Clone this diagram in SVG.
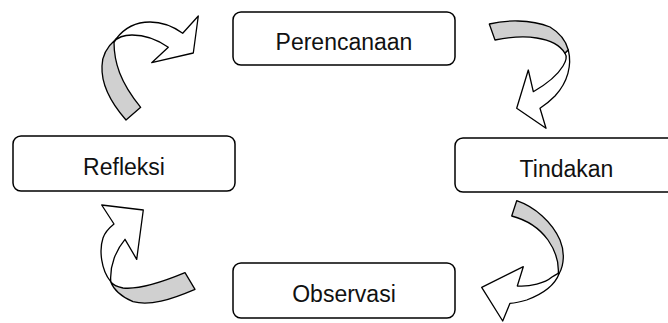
<svg xmlns="http://www.w3.org/2000/svg" width="668" height="323" viewBox="0 0 668 323">
<style>
.box{fill:#fff;stroke:#000;stroke-width:1.5}
.lbl{font-family:"Liberation Sans",Arial,sans-serif;font-size:23px;fill:#111;text-anchor:middle}
.back{fill:#d0d0d0;stroke:#000;stroke-width:1.3;stroke-linejoin:round}
.front{fill:#fff;stroke:#000;stroke-width:1.3;stroke-linejoin:round}
</style>
<rect width="668" height="323" fill="#fff"/>
<g id="connectors">
<g id="arrow-tl">
<path class="back" d="M126,120 C112,104 101,86 102,66 C102,55 108,46 116,39 L114,42 C114,62 120,82 140.7,107.3 Z"/>
<path class="front" d="M116,39 C125,27 138,22 150,22 C163,22 174,27 182.7,33.3 L198.3,16 L193.3,53 L151.7,62.7 L168.3,47.3 C158,40 145,35 132,35 C123,35 117,38 114,42 Z"/>
</g>
<g id="arrow-tr">
<path class="back" d="M489.3,24 C505,20 530,19 550,27 C560,33 566,41 568.3,50 L565,53.3 C560,45 550,40 536.7,38 C525,36 510,37 495,40 Z"/>
<path class="front" d="M568.3,50 C572,65 568,82 555,96 C550,101 545,105 540,108.3 L546,128.3 L516.7,108.3 L528.3,70 L533.3,91.7 C545,85 557,76 563,66 C566,61 567,56 565,53.3 Z"/>
</g>
<g id="arrow-br">
<path class="back" d="M516.7,200.7 C535,207 552,222 560,240 C565,252 564,265 559.3,273.3 L558.3,273.3 C559,262 555,250 548,240 C540,229 527,220 511.7,216 Z"/>
<path class="front" d="M559.3,273.3 C555,285 543,294 526.7,300 C520,302 515,303 510,303.3 L502.7,321 L481.7,287.3 L523.3,266.7 L517.3,286 C530,287 545,283 552,277 C555,275 557,274 558.3,273.3 Z"/>
</g>
<g id="arrow-bl">
<path class="back" d="M185,272.7 C165,281 140,290 123,288 C117,287 113,285 110.7,281.7 C113,288 120,296 133,301.7 C150,306 170,300 195,289.3 Z"/>
<path class="front" d="M110.7,281.7 C101,270 99,250 103,238 C105,232 109,228 114,224 L101.7,205 L143.3,210 L136.7,259.3 L125,239.3 C116,250 110,265 110.7,280 Z"/>
</g>
</g>
<g id="perencanaan">
<rect class="box" x="233" y="12" width="222" height="53" rx="8"/>
<text class="lbl" x="344" y="50">Perencanaan</text>
</g>
<g id="refleksi">
<rect class="box" x="13" y="136" width="222" height="55" rx="8"/>
<text class="lbl" x="124" y="175">Refleksi</text>
</g>
<g id="tindakan">
<rect class="box" x="455" y="138" width="222" height="54" rx="8"/>
<text class="lbl" x="566.5" y="177">Tindakan</text>
</g>
<g id="observasi">
<rect class="box" x="233" y="263" width="222" height="55" rx="8"/>
<text class="lbl" x="344" y="302">Observasi</text>
</g>
</svg>
